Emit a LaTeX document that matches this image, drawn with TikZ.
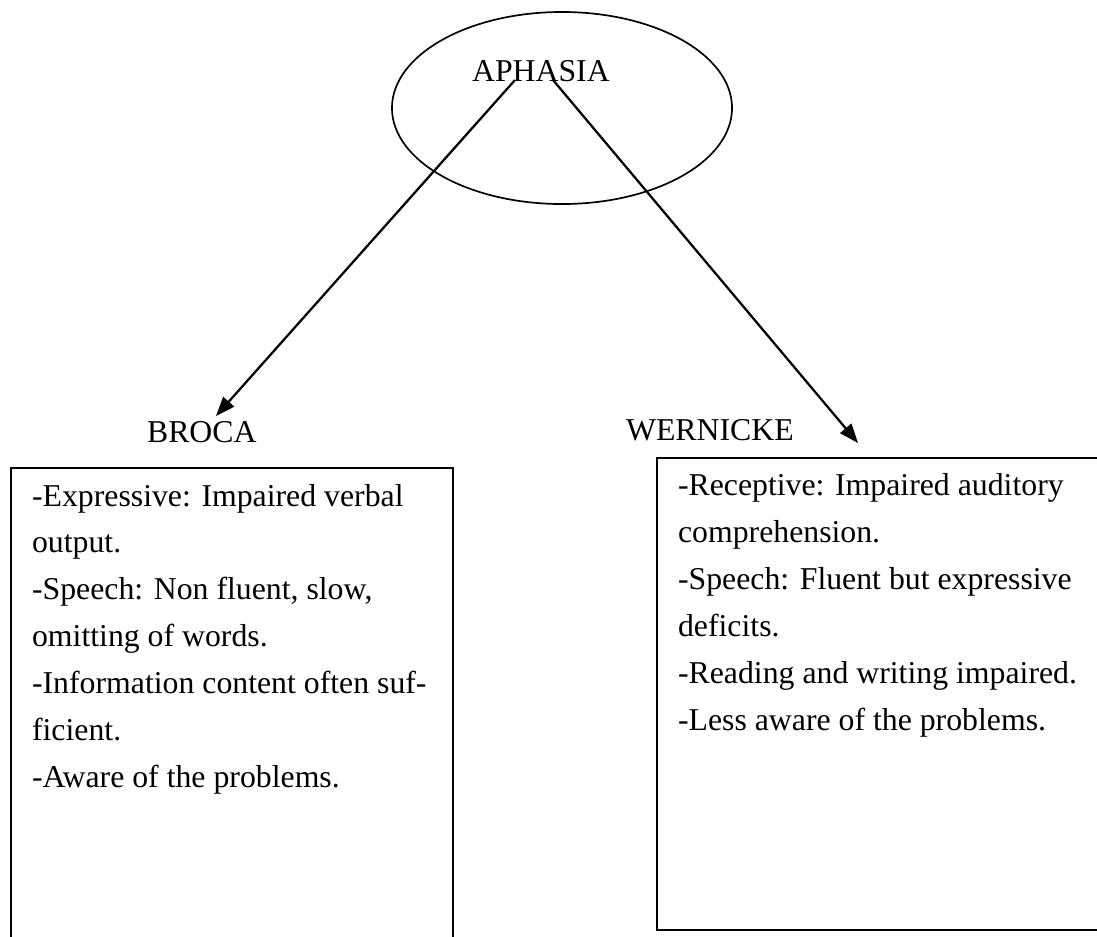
\documentclass[tikz,border=0pt]{standalone}
\usepackage{fontspec}
\setmainfont{Liberation Serif}
\usetikzlibrary{arrows.meta,calc,shapes.geometric}
\tikzset{
  heading/.style={anchor=base west, inner sep=0pt, font=\fontsize{22.6pt}{33.3pt}\selectfont},
  notes/.style={heading, align=left},
  panel/.style={draw, anchor=north west, inner sep=0pt},
  pointer/.style={-{Triangle[length=0.48cm,width=0.36cm]}, line width=1.6pt}
}

\begin{document}
\begin{tikzpicture}[x=0.025cm,y=-0.025cm,line width=1.5pt]
  \clip (0,0) rectangle (1097,936);
  %%%%% TOP %%%%%
  \node[draw, ellipse, minimum width=8.5cm, minimum height=4.8cm, line width=1.2pt] (ring) at (562,108) {};
  \node[heading] (aphasia) at (471,81) {APHASIA};
  \coordinate (leftfoot) at ($(aphasia.base west)+(44,-1)$);
  \coordinate (rightfoot) at ($(aphasia.base west)+(82,-1)$);

  %%%%% BRANCHES %%%%%
  \node[heading] (broca) at (146,442) {BROCA};
  \node[heading] (wernicke) at (625,440) {WERNICKE};
  \coordinate (brocatip) at (216,416);
  \coordinate (wernicketip) at (858,443);
  \draw[pointer] (leftfoot) -- (brocatip);
  \draw[pointer] (rightfoot) -- (wernicketip);

  %%%%% BOXES %%%%%
  \node[panel, minimum width=11.05cm, minimum height=12.4cm] (brocabox) at (10,467) {};
  \node[panel, minimum width=11.6cm, minimum height=11.8cm] (wernickebox) at (656,457) {};

  % base anchor sits on the last line
  \node[notes] (brocatext) at (31,787) {-Expressive: Impaired verbal\\output.\\-Speech: Non fluent, slow,\\omitting of words.\\-Information content often suf-\\ficient.\\-Aware of the problems.};
  \node[notes] (wernicketext) at (677,730) {-Receptive: Impaired auditory\\comprehension.\\-Speech: Fluent but expressive\\deficits.\\-Reading and writing impaired.\\-Less aware of the problems.};
\end{tikzpicture}
\end{document}
